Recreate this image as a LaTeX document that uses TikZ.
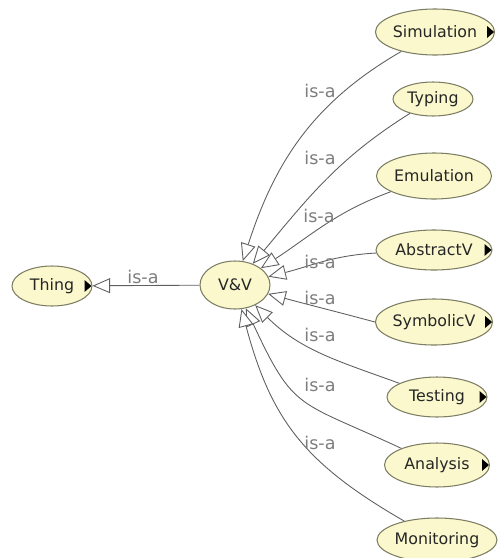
\documentclass[tikz,border=0pt]{standalone}
\usepackage{fontspec}
\setmainfont{DejaVu Sans}
\usetikzlibrary{shapes.geometric,arrows.meta}
\definecolor{clsfill}{RGB}{250,248,204}
\definecolor{clsline}{RGB}{125,125,100}
\definecolor{edgegray}{RGB}{95,95,95}
\definecolor{labelgray}{RGB}{125,125,125}
\tikzset{
  cls/.style={ellipse, draw=clsline, fill=clsfill, line width=0.6pt, inner sep=0pt,
    text=black!85, font=\fontsize{9}{11}\selectfont},
  isa/.style={draw=edgegray, line width=0.5pt,
    -{Triangle[length=10pt,width=8.5pt,fill=white]}},
  isalbl/.style={text=labelgray, font=\fontsize{10}{12}\selectfont, inner sep=0pt}
}
\begin{document}
\begin{tikzpicture}[x=0.02cm,y=-0.02cm]
    \useasboundingbox (0,0) rectangle (498,558);
    \clip (0,0) rectangle (498,558);
    % classes
    \node[cls, minimum width=1.6cm, minimum height=0.8cm] (thing) at (52,286) {Thing};
    \node[cls, minimum width=1.4cm, minimum height=0.96cm] (vv) at (235,285) {V\&V};
    \node[cls, minimum width=2.36cm, minimum height=0.92cm] (sim) at (435,32) {Simulation};
    \node[cls, minimum width=1.6cm, minimum height=0.68cm] (typ) at (433,99) {Typing};
    \node[cls, minimum width=2.3cm, minimum height=0.92cm] (emu) at (434,176) {Emulation};
    \node[cls, minimum width=2.32cm, minimum height=0.8cm] (abs) at (434,250) {AbstractV};
    \node[cls, minimum width=2.34cm, minimum height=0.92cm] (sym) at (434,322) {SymbolicV};
    \node[cls, minimum width=2cm, minimum height=0.8cm] (test) at (437,397) {Testing};
    \node[cls, minimum width=2.1cm, minimum height=0.88cm] (ana) at (437,465) {Analysis};
    \node[cls, minimum width=2.4cm, minimum height=0.88cm] (mon) at (437,540) {Monitoring};
    % expand markers
    \foreach \n in {thing,sim,abs,sym,test,ana}
        \fill[black] (\n.east) ++(-1,0) -- ++(-7,-6) -- ++(0,12) -- cycle;
    % is-a edges
    \draw[isa] (vv) -- (thing);
    \draw[isa] (sim) to[out=210,in=72] (vv);
    \draw[isa] (typ) to[out=212,in=50] (vv);
    \draw[isa] (emu) to[out=200,in=33] (vv);
    \draw[isa] (abs) to[out=183,in=14] (vv);
    \draw[isa] (sym.west) to[out=165,in=-15] (vv);
    \draw[isa] (test) to[out=160,in=-45] (vv);
    \draw[isa] (ana) to[out=155,in=-65,looseness=1.4] (vv);
    \draw[isa] (mon) to[out=150,in=-75,looseness=1.1] (vv);
    % labels
    \node[isalbl] (lthing) at (143,277) {is-a};
    \node[isalbl] (lsim) at (320,91) {is-a};
    \node[isalbl] (ltyp) at (320,158) {is-a};
    \node[isalbl] (lemu) at (319,216) {is-a};
    \node[isalbl] (labs) at (320,262) {is-a};
    \node[isalbl] (lsym) at (320,298) {is-a};
    \node[isalbl] (ltest) at (320,335) {is-a};
    \node[isalbl] (lana) at (320,385) {is-a};
    \node[isalbl] (lmon) at (320,443) {is-a};
\end{tikzpicture}
\end{document}
